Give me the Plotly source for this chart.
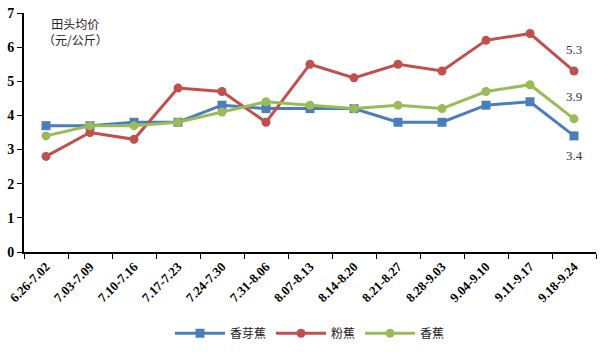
import plotly.graph_objects as go

categories = ["6.26-7.02", "7.03-7.09", "7.10-7.16", "7.17-7.23", "7.24-7.30", "7.31-8.06",
              "8.07-8.13", "8.14-8.20", "8.21-8.27", "8.28-9.03", "9.04-9.10", "9.11-9.17", "9.18-9.24"]
xiangyajiao = [3.7, 3.7, 3.8, 3.8, 4.3, 4.2, 4.2, 4.2, 3.8, 3.8, 4.3, 4.4, 3.4]
fenjiao = [2.8, 3.5, 3.3, 4.8, 4.7, 3.8, 5.5, 5.1, 5.5, 5.3, 6.2, 6.4, 5.3]
xiangjiao = [3.4, 3.7, 3.7, 3.8, 4.1, 4.4, 4.3, 4.2, 4.3, 4.2, 4.7, 4.9, 3.9]
y_ticks = [0, 1, 2, 3, 4, 5, 6, 7]

fig = go.Figure()
series = [
    ("香芽蕉", xiangyajiao, "#4a7ebb", "square"),
    ("粉蕉", fenjiao, "#c0504d", "circle"),
    ("香蕉", xiangjiao, "#9bbb59", "circle"),
]
for name, vals, color, sym in series:
    fig.add_trace(go.Scatter(
        x=categories, y=vals, name=name, mode="lines+markers",
        line=dict(color=color, width=3),
        marker=dict(symbol=sym, size=9, color=color),
    ))

label_font = dict(family="Liberation Serif, Noto Sans CJK SC", size=13, color="#333")
fig.add_annotation(x=categories[-1], y=fenjiao[-1], text="5.3", showarrow=False,
                   yshift=22, font=label_font)
fig.add_annotation(x=categories[-1], y=xiangjiao[-1], text="3.9", showarrow=False,
                   yshift=22, font=label_font)
fig.add_annotation(x=categories[-1], y=xiangyajiao[-1], text="3.4", showarrow=False,
                   yshift=-20, font=label_font)
fig.add_annotation(xref="paper", yref="paper", x=0.09, y=1.0, text="田头均价<br>（元/公斤）",
                   showarrow=False, xanchor="center", yanchor="top",
                   font=dict(family="Noto Sans CJK SC", size=12, color="#222"))

fig.update_layout(
    width=600, height=352,
    margin=dict(l=24, r=4, t=13, b=97),
    plot_bgcolor="white", paper_bgcolor="white",
    showlegend=True,
    legend=dict(orientation="h", x=0.5, xanchor="center", y=-0.34, yanchor="middle",
                font=dict(family="Noto Sans CJK SC", size=12, color="#222"),
                itemwidth=50),
    xaxis=dict(
        type="category", tickson="boundaries", ticks="outside", ticklen=5,
        tickcolor="black", showline=True, linecolor="black", linewidth=2,
        tickangle=-45, showgrid=False, range=[-0.5, 12.5], automargin=False,
        tickfont=dict(family="Liberation Serif", size=13, color="black", weight="bold"),
    ),
    yaxis=dict(
        range=[0, 7], tickvals=y_ticks, ticks="outside", ticklen=5, tickcolor="black",
        showline=True, linecolor="black", linewidth=2, showgrid=False, zeroline=False,
        automargin=False,
        tickfont=dict(family="Liberation Serif", size=14, color="black", weight="bold"),
    ),
)

fig.write_html("out.html")
